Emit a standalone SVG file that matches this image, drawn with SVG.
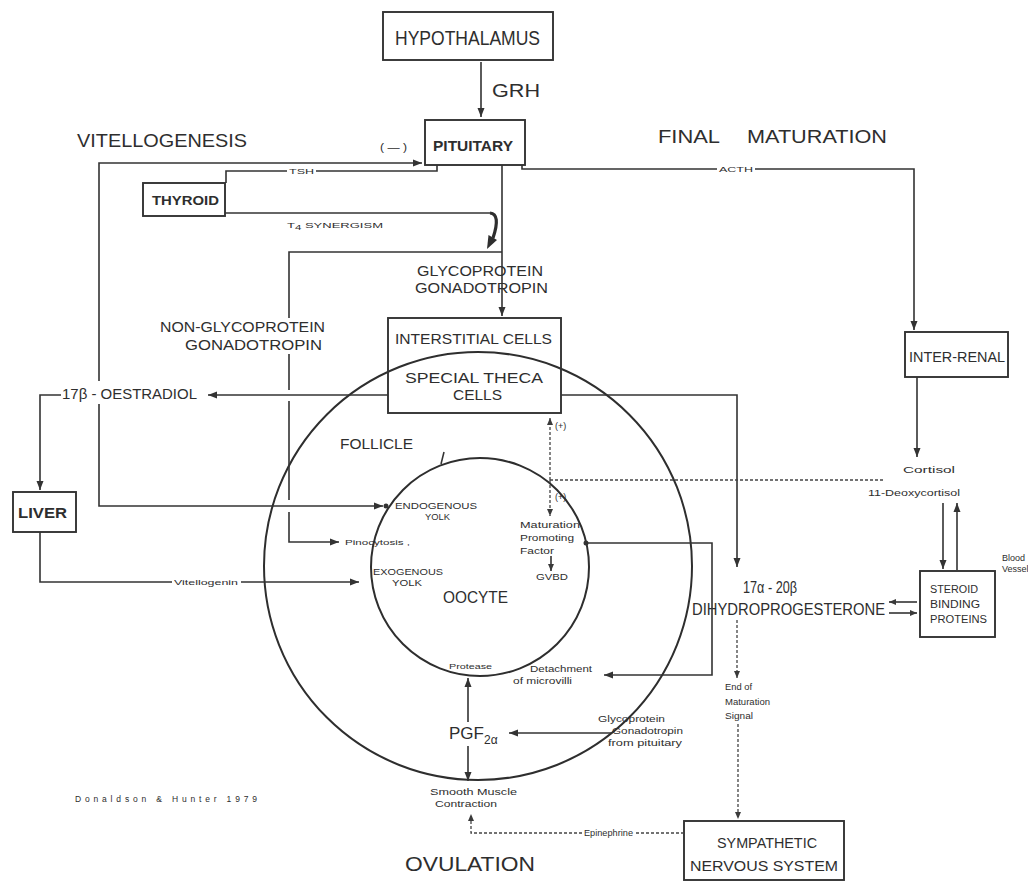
<svg xmlns="http://www.w3.org/2000/svg" width="1028" height="882" viewBox="0 0 1028 882">
<defs>
<marker id="ah" markerUnits="userSpaceOnUse" markerWidth="10" markerHeight="8" refX="9" refY="4" orient="auto">
<path d="M0,0.5 L9,4 L0,7.5 z" fill="#333"/>
</marker>
<marker id="ahs" markerUnits="userSpaceOnUse" markerWidth="8" markerHeight="7" refX="7" refY="3.5" orient="auto">
<path d="M0,0.5 L7,3.5 L0,6.5 z" fill="#3a3a3a"/>
</marker>
<style>
text { font-family: "Liberation Sans", Arial, sans-serif; fill: #2e2e2e; }
.box { fill: none; stroke: #333; stroke-width: 1.9; }
.ln { fill: none; stroke: #333; stroke-width: 1.6; }
.dash { fill: none; stroke: #444; stroke-width: 1.3; stroke-dasharray: 3 2; }
.ring { fill: none; stroke: #2e2e2e; stroke-width: 2; }
.h1 { font-size: 20px; }
.h2 { font-size: 15px; }
.sm { font-size: 9px; }
.xs { font-size: 8px; }
</style>
</defs>
<rect width="1028" height="882" fill="#fff"/>

<!-- follicle and oocyte -->
<g id="follicle">
<circle class="ring" cx="478" cy="566" r="214"/>
<text class="h2" x="340" y="449" textLength="73" lengthAdjust="spacingAndGlyphs">FOLLICLE</text>
</g>
<g id="oocyte">
<circle class="ring" cx="480" cy="567" r="109"/>
<path class="ln" d="M444 452 L441 464"/>
<text style="font-size:16px" x="443" y="603" textLength="65" lengthAdjust="spacingAndGlyphs">OOCYTE</text>
<text class="sm" x="395" y="509" textLength="82" lengthAdjust="spacingAndGlyphs">ENDOGENOUS</text>
<text class="sm" x="425" y="520" textLength="25" lengthAdjust="spacingAndGlyphs">YOLK</text>
<text class="sm" x="373" y="575" textLength="70" lengthAdjust="spacingAndGlyphs">EXOGENOUS</text>
<text class="sm" x="392" y="586" textLength="30" lengthAdjust="spacingAndGlyphs">YOLK</text>
<text class="sm" x="520" y="528" textLength="60" lengthAdjust="spacingAndGlyphs">Maturation</text>
<text class="sm" x="520" y="541" textLength="54" lengthAdjust="spacingAndGlyphs">Promoting</text>
<text class="sm" x="520" y="554" textLength="34" lengthAdjust="spacingAndGlyphs">Factor</text>
<text class="sm" x="536" y="580" textLength="32" lengthAdjust="spacingAndGlyphs">GVBD</text>
<text class="xs" x="449" y="669" textLength="43" lengthAdjust="spacingAndGlyphs">Protease</text>
</g>

<!-- endocrine nodes -->
<g id="hypothalamus">
<rect class="box" x="383" y="12" width="170" height="48"/>
<text class="h1" x="395" y="45" textLength="145" lengthAdjust="spacingAndGlyphs">HYPOTHALAMUS</text>
</g>
<g id="pituitary">
<rect class="box" x="425" y="120" width="100" height="45"/>
<text style="font-size:14px;font-weight:bold" x="433" y="151" textLength="80" lengthAdjust="spacingAndGlyphs">PITUITARY</text>
</g>
<g id="thyroid">
<rect class="box" x="143" y="183" width="82" height="33"/>
<text style="font-size:12px;font-weight:bold" x="152" y="205" textLength="67" lengthAdjust="spacingAndGlyphs">THYROID</text>
</g>
<g id="interstitial-cells">
<rect class="box" x="388" y="318" width="173" height="95"/>
<text class="h2" x="395" y="344" textLength="157" lengthAdjust="spacingAndGlyphs">INTERSTITIAL  CELLS</text>
<text class="h2" x="405" y="383" textLength="138" lengthAdjust="spacingAndGlyphs">SPECIAL  THECA</text>
<text class="h2" x="453" y="400" textLength="49" lengthAdjust="spacingAndGlyphs">CELLS</text>
</g>
<g id="liver">
<rect class="box" x="13" y="492" width="63" height="40"/>
<text style="font-size:14px;font-weight:bold" x="18" y="518" textLength="49" lengthAdjust="spacingAndGlyphs">LIVER</text>
</g>
<g id="inter-renal">
<rect class="box" x="905" y="332" width="103" height="45"/>
<text style="font-size:14px" x="909" y="362" textLength="96" lengthAdjust="spacingAndGlyphs">INTER-RENAL</text>
</g>
<g id="steroid-binding-proteins">
<rect class="box" x="920" y="571" width="75" height="66"/>
<text style="font-size:10px" x="930" y="593" textLength="48" lengthAdjust="spacingAndGlyphs">STEROID</text>
<text style="font-size:10px" x="930" y="608" textLength="50" lengthAdjust="spacingAndGlyphs">BINDING</text>
<text style="font-size:10px" x="930" y="623" textLength="57" lengthAdjust="spacingAndGlyphs">PROTEINS</text>
</g>
<g id="sympathetic-nervous-system">
<rect class="box" x="684" y="821" width="160" height="59"/>
<text class="h2" x="717" y="848" textLength="100" lengthAdjust="spacingAndGlyphs">SYMPATHETIC</text>
<text class="h2" x="690" y="871" textLength="148" lengthAdjust="spacingAndGlyphs">NERVOUS  SYSTEM</text>
</g>
<g id="oestradiol">
<text class="h2" x="62" y="399" textLength="135" lengthAdjust="spacingAndGlyphs">17β - OESTRADIOL</text>
</g>
<g id="dihydroprogesterone">
<text style="font-size:16px" x="743" y="593" textLength="54" lengthAdjust="spacingAndGlyphs">17α - 20β</text>
<text style="font-size:16px" x="692" y="615" textLength="193" lengthAdjust="spacingAndGlyphs">DIHYDROPROGESTERONE</text>
</g>
<g id="pgf2a">
<text style="font-size:17px" x="449" y="739">PGF<tspan style="font-size:12px" dy="5">2α</tspan></text>
</g>

<!-- connectors -->
<g id="connectors">
<path class="ln" d="M481 62 L481 117" marker-end="url(#ah)"/>
<path class="ln" d="M99 381 L99 163 L422 163" marker-end="url(#ah)"/>
<path class="ln" d="M437 165 L437 171 L316 171 M287 171 L226 171 L226 183"/>
<path class="ln" d="M225 213 L490 213"/>
<path fill="none" stroke="#2e2e2e" stroke-width="3.2" d="M490 213 Q501 214 493 238"/>
<polygon fill="#2e2e2e" points="487,249 497,240 488.5,235"/>
<path class="ln" d="M522 165 L522 169 L717 169 M755 169 L914 169 L914 330" marker-end="url(#ah)"/>
<path class="ln" d="M502 165 L502 316" marker-end="url(#ah)"/>
<path class="ln" d="M502 252 L289 252 L289 318 M289 354 L289 390 M289 401 L289 500 M289 512 L289 542 L339 542" marker-end="url(#ah)"/>
<path class="ln" d="M388 395 L208 395" marker-end="url(#ah)"/>
<path class="ln" d="M61 395 L40 395 L40 490" marker-end="url(#ah)"/>
<path class="ln" d="M99 404 L99 506 L383 506" marker-end="url(#ah)"/>
<circle cx="386" cy="506" r="2.5" fill="#333"/>
<path class="ln" d="M40 532 L40 582 L172 582 M241 582 L359 582" marker-end="url(#ah)"/>
<path class="ln" d="M561 395 L737 395 L737 567" marker-end="url(#ah)"/>
<path class="dash" d="M550 480 L550 418" marker-end="url(#ahs)"/>
<path class="dash" d="M550 480 L550 516" marker-end="url(#ahs)"/>
<path class="dash" d="M550 480 L883 480"/>
<path class="ln" d="M551 556 L551 571" marker-end="url(#ahs)"/>
<circle cx="586" cy="543" r="2.5" fill="#333"/>
<path class="ln" d="M586 543 L712 543 L712 675 L604 675" marker-end="url(#ah)"/>
<path class="ln" d="M468 722 L468 678" marker-end="url(#ah)"/>
<path class="ln" d="M468 746 L468 781" marker-end="url(#ah)"/>
<path class="ln" d="M612 733 L509 733" marker-end="url(#ah)"/>
<path class="ln" d="M917 377 L917 457" marker-end="url(#ah)"/>
<path class="ln" d="M943 503 L943 569" marker-end="url(#ah)"/>
<path class="ln" d="M957 570 L957 503" marker-end="url(#ah)"/>
<path class="ln" d="M917 602 L889 602" marker-end="url(#ahs)"/>
<path class="ln" d="M889 613 L917 613" marker-end="url(#ahs)"/>
<path class="dash" d="M737 620 L737 678" marker-end="url(#ahs)"/>
<path class="dash" d="M738 724 L738 819" marker-end="url(#ahs)"/>
<path class="dash" d="M684 833 L636 833 M582 833 L471 833 L471 814" marker-end="url(#ahs)"/>
</g>

<!-- connector labels and headings -->
<g id="labels">
<text style="font-size:19px" x="492" y="97" textLength="48" lengthAdjust="spacingAndGlyphs">GRH</text>
<text style="font-size:10px" x="380" y="151" textLength="27" lengthAdjust="spacingAndGlyphs">( — )</text>
<text style="font-size:19px" x="77" y="147" textLength="170" lengthAdjust="spacingAndGlyphs">VITELLOGENESIS</text>
<text style="font-size:19px" x="658" y="143" textLength="62" lengthAdjust="spacingAndGlyphs">FINAL</text>
<text style="font-size:19px" x="747" y="143" textLength="140" lengthAdjust="spacingAndGlyphs">MATURATION</text>
<text class="xs" x="289" y="174" textLength="25" lengthAdjust="spacingAndGlyphs">TSH</text>
<text class="xs" x="287" y="228" textLength="96" lengthAdjust="spacingAndGlyphs">T<tspan dy="2" style="font-size:7px">4</tspan><tspan dy="-2">   SYNERGISM</tspan></text>
<text class="xs" x="719" y="172" textLength="34" lengthAdjust="spacingAndGlyphs">ACTH</text>
<text style="font-size:15px" x="417" y="276" textLength="126" lengthAdjust="spacingAndGlyphs">GLYCOPROTEIN</text>
<text style="font-size:15px" x="415" y="293" textLength="133" lengthAdjust="spacingAndGlyphs">GONADOTROPIN</text>
<text style="font-size:14px" x="160" y="332" textLength="165" lengthAdjust="spacingAndGlyphs">NON-GLYCOPROTEIN</text>
<text style="font-size:14px" x="185" y="350" textLength="137" lengthAdjust="spacingAndGlyphs">GONADOTROPIN</text>
<text class="xs" x="174" y="585" textLength="64" lengthAdjust="spacingAndGlyphs">Vitellogenin</text>
<text class="xs" x="345" y="545" textLength="65" lengthAdjust="spacingAndGlyphs">Pinocytosis ,</text>
<text class="sm" x="555" y="429">(+)</text>
<text class="sm" x="555" y="500">(+)</text>
<text class="sm" x="903" y="473" textLength="52" lengthAdjust="spacingAndGlyphs">Cortisol</text>
<text class="sm" x="868" y="496" textLength="92" lengthAdjust="spacingAndGlyphs">11-Deoxycortisol</text>
<text class="sm" x="1002" y="561">Blood</text>
<text class="sm" x="1002" y="572">Vessel</text>
<text class="sm" x="725" y="690" textLength="27" lengthAdjust="spacingAndGlyphs">End of</text>
<text class="sm" x="725" y="705" textLength="45" lengthAdjust="spacingAndGlyphs">Maturation</text>
<text class="sm" x="725" y="719" textLength="28" lengthAdjust="spacingAndGlyphs">Signal</text>
<text class="sm" x="530" y="672" textLength="62" lengthAdjust="spacingAndGlyphs">Detachment</text>
<text class="sm" x="513" y="684" textLength="59" lengthAdjust="spacingAndGlyphs">of microvilli</text>
<text class="sm" x="598" y="722" textLength="67" lengthAdjust="spacingAndGlyphs">Glycoprotein</text>
<text class="sm" x="612" y="734" textLength="71" lengthAdjust="spacingAndGlyphs">Gonadotropin</text>
<text class="sm" x="608" y="746" textLength="74" lengthAdjust="spacingAndGlyphs">from pituitary</text>
<text class="sm" x="430" y="795" textLength="87" lengthAdjust="spacingAndGlyphs">Smooth  Muscle</text>
<text class="sm" x="435" y="807" textLength="62" lengthAdjust="spacingAndGlyphs">Contraction</text>
<text class="sm" x="584" y="836" textLength="49" lengthAdjust="spacingAndGlyphs">Epinephrine</text>
<text style="font-size:20px" x="405" y="871" textLength="130" lengthAdjust="spacingAndGlyphs">OVULATION</text>
<text style="font-size:8.5px" x="75" y="802" textLength="182" lengthAdjust="spacing">Donaldson &amp; Hunter 1979</text>
</g>
</svg>
